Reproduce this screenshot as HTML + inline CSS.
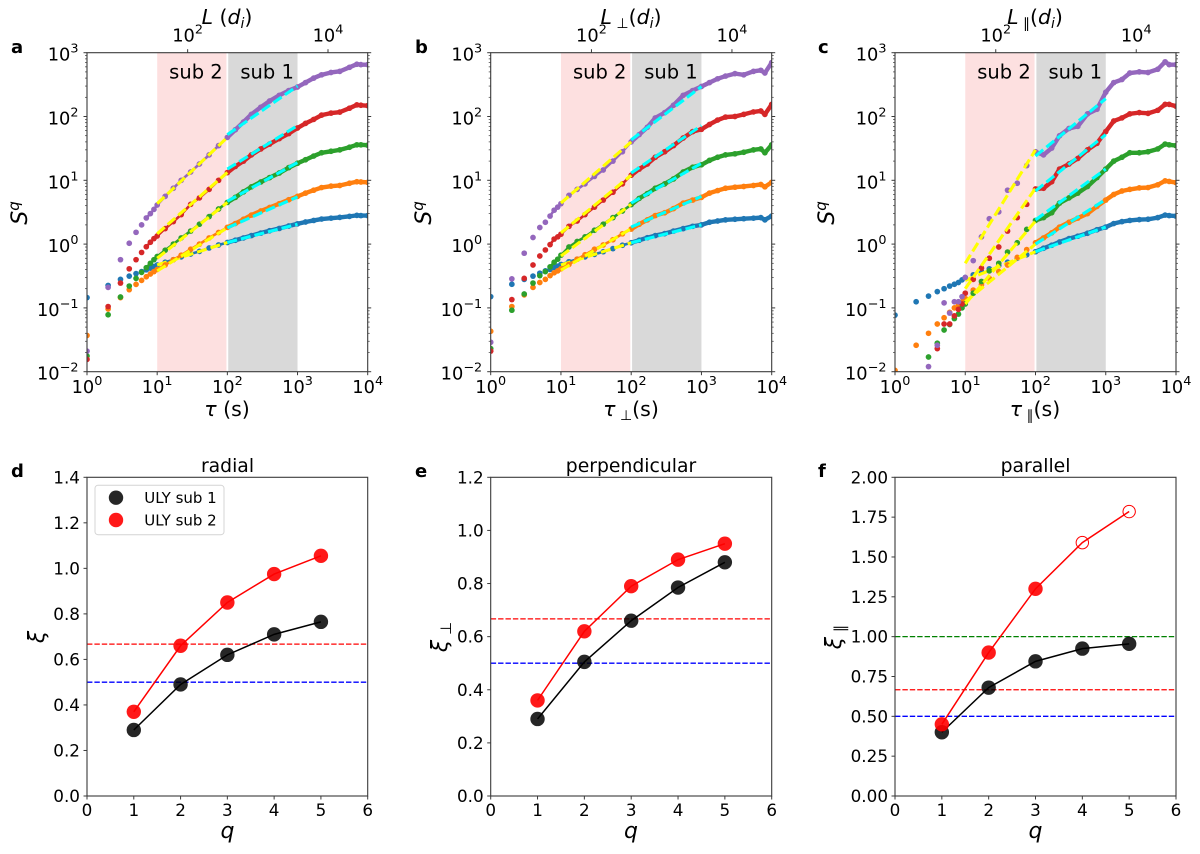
<!DOCTYPE html>
<html lang="en">
<head>
<meta charset="utf-8">
<title>Structure functions and scaling exponents</title>
<style>
html,body{margin:0;padding:0;background:#fff;}
svg{display:block;}
text{font-family:"DejaVu Sans","Liberation Sans",sans-serif;fill:#000;}
.tick{font-size:16.8px;}
.logtick{font-size:17.8px;}
.lab{font-size:20.5px;}
.ylab{font-size:22px;}
.it{font-style:italic;}
.letter{font-size:18px;font-weight:bold;}
.sub-label{font-size:19.5px;}
.title{font-size:18.8px;}
.leg{font-size:15px;}
</style>
</head>
<body>
<svg id="figure" xmlns="http://www.w3.org/2000/svg" width="1200" height="854" viewBox="0 0 1200 854">
  <defs>
    <clipPath id="clip-a"><rect x="87" y="52.7" width="280.7" height="319"/></clipPath>
    <clipPath id="clip-b"><rect x="490.7" y="52.7" width="281" height="319"/></clipPath>
    <clipPath id="clip-c"><rect x="895" y="52.7" width="281" height="319"/></clipPath>
  </defs>
  <g id="layer-a"></g>
  <g id="layer-b"></g>
  <g id="layer-c"></g>
  <g id="layer-d"></g>
  <g id="layer-e"></g>
  <g id="layer-f"></g>

  <text class="letter" x="11" y="53">a</text>
  <text class="letter" x="415" y="53">b</text>
  <text class="letter" x="818" y="53">c</text>
  <text class="letter" x="11" y="477">d</text>
  <text class="letter" x="415" y="477">e</text>
  <text class="letter" x="818" y="477">f</text>

  <text class="lab" x="227" y="24" text-anchor="middle"><tspan class="it">L</tspan> (<tspan class="it">d</tspan><tspan class="it" font-size="14" dy="4">i</tspan><tspan dy="-4">)</tspan></text>
  <text class="lab" x="631" y="24" text-anchor="middle"><tspan class="it">L</tspan><tspan font-size="14" dy="4"> ⊥</tspan><tspan dy="-4">(</tspan><tspan class="it">d</tspan><tspan class="it" font-size="14" dy="4">i</tspan><tspan dy="-4">)</tspan></text>
  <text class="lab" x="1035" y="24" text-anchor="middle"><tspan class="it">L</tspan><tspan font-size="14" dy="4"> ∥</tspan><tspan dy="-4">(</tspan><tspan class="it">d</tspan><tspan class="it" font-size="14" dy="4">i</tspan><tspan dy="-4">)</tspan></text>

  <text class="lab" x="227" y="416" text-anchor="middle"><tspan class="it">τ</tspan> (s)</text>
  <text class="lab" x="631" y="416" text-anchor="middle"><tspan class="it">τ</tspan><tspan font-size="14" dy="4"> ⊥</tspan><tspan dy="-4">(s)</tspan></text>
  <text class="lab" x="1035" y="416" text-anchor="middle"><tspan class="it">τ</tspan><tspan font-size="14" dy="4"> ∥</tspan><tspan dy="-4">(s)</tspan></text>

  <text class="ylab" transform="translate(27,213) rotate(-90)" text-anchor="middle"><tspan class="it">S</tspan><tspan class="it" font-size="15" dy="-8">q</tspan></text>
  <text class="ylab" transform="translate(431,213) rotate(-90)" text-anchor="middle"><tspan class="it">S</tspan><tspan class="it" font-size="15" dy="-8">q</tspan></text>
  <text class="ylab" transform="translate(834,213) rotate(-90)" text-anchor="middle"><tspan class="it">S</tspan><tspan class="it" font-size="15" dy="-8">q</tspan></text>

  <text class="title" x="227.5" y="472" text-anchor="middle">radial</text>
  <text class="title" x="631" y="472" text-anchor="middle">perpendicular</text>
  <text class="title" x="1035.5" y="472" text-anchor="middle">parallel</text>

  <text class="ylab" x="227.5" y="838" text-anchor="middle"><tspan class="it">q</tspan></text>
  <text class="ylab" x="631" y="838" text-anchor="middle"><tspan class="it">q</tspan></text>
  <text class="ylab" x="1035.5" y="838" text-anchor="middle"><tspan class="it">q</tspan></text>

  <text class="ylab" transform="translate(44,637) rotate(-90)" text-anchor="middle"><tspan class="it">ξ</tspan></text>
  <text class="ylab" transform="translate(447,637) rotate(-90)" text-anchor="middle"><tspan class="it">ξ</tspan><tspan font-size="15" dy="4"> ⊥</tspan></text>
  <text class="ylab" transform="translate(841,637) rotate(-90)" text-anchor="middle"><tspan class="it">ξ</tspan><tspan font-size="15" dy="4"> ∥</tspan></text>

  <g>
    <rect x="95" y="485.3" width="129" height="49.4" rx="3" fill="#fff" stroke="#d4d4d4" stroke-width="1"/>
    <circle cx="116" cy="497.7" r="7.2" fill="#000" fill-opacity="0.85"/>
    <text class="leg" x="144.3" y="503">ULY sub 1</text>
    <circle cx="116" cy="520" r="7.2" fill="#ff0000" fill-opacity="0.9"/>
    <text class="leg" x="144.3" y="525.5">ULY sub 2</text>
  </g>
</svg>
<script>
// ---- Shared abscissae and tick labels ----
const tauValues = [1,2,3,4,5,6,7,8,9,10,13,17,22,30,40,55,75,100,130,170,220,300,400,550,750,1000,1300,1700,2200,3000,4000,5500,7000,8000,10000];
const logXTicks = [1,10,100,1000,10000];
const logXExponents = ['0','1','2','3','4'];
const logYTicks = [0.01,0.1,1,10,100,1000];
const logYExponents = ['−2','−1','0','1','2','3'];
const topTicks = [100,10000];
const topExponents = ['2','4'];
const topAxisRange = [3.68,36800];
const subRange2 = [10,97];
const subRange1 = [103,1000];
const fitRange2 = [10,100];
const fitRange1 = [100,1000];
const seriesColors = ['#1f77b4','#ff7f0e','#2ca02c','#d62728','#9467bd'];

// ---- Panel a: radial structure functions, q = 1..5 ----
const aQ1 = [0.145,0.225,0.28,0.315,0.345,0.37,0.395,0.42,0.445,0.47,0.52,0.57,0.63,0.70,0.77,0.87,0.97,1.06,1.15,1.25,1.36,1.49,1.62,1.76,1.92,2.08,2.22,2.35,2.47,2.55,2.62,2.72,2.82,2.8,2.8];
const aQ2 = [0.037,0.096,0.145,0.193,0.234,0.27,0.308,0.34,0.37,0.40,0.47,0.57,0.67,0.83,1.0,1.25,1.52,1.83,2.1,2.45,2.85,3.3,3.75,4.3,4.95,5.6,6.3,7.0,7.7,8.1,8.3,9.0,9.5,9.4,9.3];
const aQ3 = [0.0176,0.078,0.148,0.22,0.29,0.36,0.427,0.5,0.57,0.64,0.80,1.0,1.25,1.6,2.05,2.7,3.55,4.5,5.4,6.6,7.9,9.4,11,13,15.8,18.5,21,24,27,28.5,30,33,36,36,35.5];
const aQ4 = [0.0156,0.105,0.245,0.41,0.57,0.74,0.91,1.07,1.22,1.34,1.75,2.25,2.9,4.2,5.3,7.2,10,13.2,16.5,20,25,31,37,45,54,66,78,90,105,113,117,135,152,150,148];
const aQ5 = [0.021,0.21,0.57,1.03,1.53,2.0,2.57,3.0,3.5,4.1,5.6,7.5,10,13.5,18,25,35,47,62,82,108,140,175,215,255,290,340,400,450,490,510,590,660,650,650];
const aFit2Start = [0.47,0.38,0.6,1.45,4.3];
const aFit2End = [1.06,1.8,4.5,13.3,47];
const aFit1Start = [1.06,1.8,4.7,15,52];
const aFit1End = [2.05,5.5,19,72,300];

// ---- Panel b: perpendicular structure functions ----
const bQ1 = [0.15,0.235,0.28,0.315,0.35,0.38,0.40,0.43,0.45,0.48,0.53,0.58,0.63,0.69,0.76,0.85,0.96,1.05,1.15,1.26,1.36,1.46,1.6,1.75,1.9,2.0,2.2,2.3,2.4,2.45,2.5,2.55,2.6,2.4,2.75];
const bQ2 = [0.043,0.105,0.16,0.21,0.25,0.28,0.32,0.355,0.38,0.41,0.48,0.58,0.68,0.83,0.97,1.17,1.45,1.72,2.05,2.4,2.8,3.1,3.6,4.4,4.9,5.4,6.3,6.9,7.5,7.8,8.0,8.3,8.6,7.9,9.3];
const bQ3 = [0.023,0.092,0.165,0.245,0.32,0.37,0.44,0.52,0.58,0.67,0.9,1.1,1.3,1.65,2.05,2.6,3.3,4.15,5.2,6.2,7.5,8.8,10.5,13.5,16,17.5,20.5,23,25,26,27.5,30,31,27,36];
const bQ4 = [0.021,0.135,0.29,0.47,0.65,0.81,0.98,1.2,1.3,1.43,1.9,2.3,2.9,3.8,4.9,6.5,8.8,12,15,18,23,28,35,46,58,63,75,88,98,100,108,118,122,108,155];
const bQ5 = [0.029,0.285,0.72,1.27,1.82,2.2,2.75,3.4,3.8,4.3,5.8,7.2,8.8,11.5,14.5,20,28,40,52,68,95,115,150,215,255,295,340,390,430,470,450,510,530,480,700];
const bFit2Start = [0.47,0.39,0.65,1.5,4.4];
const bFit2End = [1.05,1.75,4.2,12,40];
const bFit1Start = [1.05,1.85,4.4,13,43];
const bFit1End = [2.0,5.6,18.5,72,295];

// ---- Panel c: parallel structure functions ----
const cQ1 = [0.077,0.125,0.153,0.18,0.2,0.22,0.235,0.25,0.275,0.30,0.33,0.37,0.41,0.46,0.52,0.6,0.68,0.76,0.86,0.96,1.08,1.22,1.33,1.48,1.68,1.85,2.1,2.25,2.35,2.42,2.45,2.6,2.85,2.8,2.75];
const cQ2 = [0.0105,0.026,0.04,0.056,0.07,0.085,0.1,0.11,0.125,0.14,0.19,0.23,0.29,0.37,0.47,0.62,0.82,1.05,1.25,1.5,1.85,2.2,2.55,3.0,3.9,4.9,6,6.8,7.2,7.6,7.7,8.5,9.8,9.6,9.2];
const cQ3 = [null,null,0.017,0.028,0.045,0.055,0.068,0.08,0.1,0.115,0.17,0.26,0.38,0.5,0.75,1.05,1.7,2.35,2.6,3.1,4.4,5.3,6.3,8,11,15,20,23,27,27,28,31,37,36,35];
const cQ4 = [null,null,null,0.023,0.056,0.056,0.075,0.095,0.115,0.17,0.28,0.42,0.6,0.9,1.6,2.6,4.2,7.3,7.5,9.5,15,18,22,30,38,58,85,95,110,115,112,125,155,155,145];
const cQ5 = [null,null,0.012,0.026,0.12,0.083,0.125,0.125,0.15,0.3,0.55,1.3,2.5,3.2,7,9,17,28,25,32,50,65,70,110,130,240,340,380,480,500,490,550,720,650,650];
const cFit2Start = [0.27,0.125,0.115,0.2,0.5];
const cFit2End = [0.76,1.0,2.3,7.5,30];
const cFit1Start = [0.76,1.0,2.4,6.8,24];
const cFit1End = [1.85,5.0,15,52,190];

// ---- Panels d, e, f: scaling exponents ----
const qValues = [1,2,3,4,5];
const qTicks = [0,1,2,3,4,5,6];
const dSub1 = [0.29,0.49,0.62,0.71,0.765];
const dSub2 = [0.37,0.66,0.85,0.975,1.055];
const eSub1 = [0.29,0.505,0.66,0.785,0.88];
const eSub2 = [0.36,0.62,0.79,0.89,0.95];
const fSub1 = [0.40,0.68,0.845,0.925,0.955];
const fSub2 = [0.45,0.90,1.30,1.59,1.785];
const dTicks = ['0.0','0.2','0.4','0.6','0.8','1.0','1.2','1.4'];
const eTicks = ['0.0','0.2','0.4','0.6','0.8','1.0','1.2'];
const fTicks = ['0.00','0.25','0.50','0.75','1.00','1.25','1.50','1.75','2.00'];
const dRefLines = [0.667,0.5];
const eRefLines = [0.667,0.5];
const fRefLines = [1.0,0.667,0.5];
const dOpen = [false,false,false,false,false];
const eOpen = [false,false,false,false,false];
const fOpen = [false,false,false,true,true];

const NS = 'http://www.w3.org/2000/svg';
const refColors = {0.5:'#0000ff',0.667:'#ff0000',1:'#008000'};

function mk(tag, parent, attrs){
  const el = document.createElementNS(NS, tag);
  for (const k in attrs) el.setAttribute(k, attrs[k]);
  parent.appendChild(el);
  return el;
}

function logX(p, v){ return p.left + Math.log10(v) / 4 * (p.right - p.left); }
function logY(p, v){ return p.top + (3 - Math.log10(v)) / 5 * (p.bottom - p.top); }
function topX(p, v){
  const a = Math.log10(topAxisRange[0]), b = Math.log10(topAxisRange[1]);
  return p.left + (Math.log10(v) - a) / (b - a) * (p.right - p.left);
}

function powerLabel(parent, x, y, anchor, exponent, name){
  const t = mk('text', parent, {x:x, y:y, 'text-anchor':anchor, 'class':'logtick'});
  
  
  t.textContent = '10';
  const s = mk('tspan', t, {'font-size':'12.8', dy:'-8'});
  s.textContent = exponent;
  return t;
}

function drawLogPanel(p){
  const g = document.getElementById('layer-' + p.id);
  const clipped = mk('g', g, {'clip-path':'url(#clip-' + p.id + ')'});

  const band2 = mk('rect', clipped, {x:logX(p,subRange2[0]), y:p.top, width:logX(p,subRange2[1])-logX(p,subRange2[0]), height:p.bottom-p.top, fill:'#fde0e0'});
  
  
  const band1 = mk('rect', clipped, {x:logX(p,subRange1[0]), y:p.top, width:logX(p,subRange1[1])-logX(p,subRange1[0]), height:p.bottom-p.top, fill:'#d9d9d9'});
  
  

  const lab2 = mk('text', g, {x:logX(p,10)+12, y:p.top+26, 'class':'sub-label'});
  
  
  lab2.textContent = 'sub 2';
  const lab1 = mk('text', g, {x:logX(p,100)+13, y:p.top+26, 'class':'sub-label'});
  
  
  lab1.textContent = 'sub 1';

  p.series.forEach(function(vals, i){
    const color = seriesColors[i];
    const q = mk('g', clipped, {});
    
    
    let thin = '', wide = '';
    vals.forEach(function(v, k){
      if (v === null) return;
      const x = logX(p, tauValues[k]).toFixed(2), y = logY(p, v).toFixed(2);
      if (tauValues[k] >= p.thinFrom) thin += (thin ? 'L' : 'M') + x + ' ' + y;
      if (tauValues[k] >= 100) wide += (wide ? 'L' : 'M') + x + ' ' + y;
    });
    const l1 = mk('path', q, {d:thin, fill:'none', stroke:color, 'stroke-width':2.6});
    
    
    const l2 = mk('path', q, {d:wide, fill:'none', stroke:color, 'stroke-width':4.4, 'stroke-linejoin':'round'});
    
    
    vals.forEach(function(v, k){
      if (v === null) return;
      const c = mk('circle', q, {cx:logX(p, tauValues[k]), cy:logY(p, v), r:2.85, fill:color});
      
      
    });
    const fy = mk('line', q, {x1:logX(p,fitRange2[0]), y1:logY(p,p.fit2Start[i]), x2:logX(p,fitRange2[1]), y2:logY(p,p.fit2End[i]), stroke:'#ffff00', 'stroke-width':3.1, 'stroke-dasharray':'10 4'});
    
    
    const fc = mk('line', q, {x1:logX(p,fitRange1[0]), y1:logY(p,p.fit1Start[i]), x2:logX(p,fitRange1[1]), y2:logY(p,p.fit1End[i]), stroke:'#00ffff', 'stroke-width':3.1, 'stroke-dasharray':'10 4'});
    
    
  });

  const axisColor = '#3a3a3a';
  const frame = mk('rect', g, {x:p.left, y:p.top, width:p.right-p.left, height:p.bottom-p.top, fill:'none', stroke:axisColor, 'stroke-width':1.1});
  
  

  logXTicks.forEach(function(v, i){
    const x = logX(p, v);
    const t = mk('line', g, {x1:x, x2:x, y1:p.bottom, y2:p.bottom+3.5, stroke:axisColor, 'stroke-width':1});
    
    
    powerLabel(g, x, p.bottom+21.5, 'middle', logXExponents[i], 'x-tick-label');
  });
  topTicks.forEach(function(v, i){
    const x = topX(p, v);
    const t = mk('line', g, {x1:x, x2:x, y1:p.top, y2:p.top-3.5, stroke:axisColor, 'stroke-width':1});
    
    
    powerLabel(g, x, p.top-11, 'middle', topExponents[i], 'top-tick-label');
  });
  logYTicks.forEach(function(v, i){
    const y = logY(p, v);
    [p.left, p.right].forEach(function(edge, side){
      const t = mk('line', g, {x1:edge, x2:edge+(side?3.5:-3.5), y1:y, y2:y, stroke:axisColor, 'stroke-width':1});
      
      
      if (v < 1000) for (let m = 2; m < 10; m++){
        const my = logY(p, v * m);
        const mt = mk('line', g, {x1:edge, x2:edge+(side?2:-2), y1:my, y2:my, stroke:axisColor, 'stroke-width':0.7});
        
        
      }
    });
    powerLabel(g, p.left-8.5, y+8, 'end', logYExponents[i], 'y-tick-label');
  });
}

function drawExponentPanel(p){
  const g = document.getElementById('layer-' + p.id);
  const sx = function(v){ return p.left + v / 6 * (p.right - p.left); };
  const sy = function(v){ return p.bottom - v / p.yMax * (p.bottom - p.top); };
  const axisColor = '#3a3a3a';

  p.refLines.forEach(function(v){
    const r = mk('line', g, {x1:p.left, x2:p.right, y1:sy(v), y2:sy(v), stroke:refColors[v], 'stroke-width':1.3, 'stroke-dasharray':'5.4 2'});
    
    
  });

  [[p.sub1,'#000000',0.85,'sub-1'],[p.sub2,'#ff0000',0.9,'sub-2']].forEach(function(s){
    const d = s[0].map(function(v, k){ return (k ? 'L' : 'M') + sx(qValues[k]).toFixed(2) + ' ' + sy(v).toFixed(2); }).join('');
    const line = mk('path', g, {d:d, fill:'none', stroke:s[1], 'stroke-width':1.5});
    
    
    s[0].forEach(function(v, k){
      const hollow = s[3] === 'sub-2' && p.open[k];
      const c = hollow
        ? mk('circle', g, {cx:sx(qValues[k]), cy:sy(v), r:6.2, fill:'none', stroke:'#ff0000', 'stroke-width':1})
        : mk('circle', g, {cx:sx(qValues[k]), cy:sy(v), r:7.2, fill:s[1], 'fill-opacity':s[2]});
      
      
    });
  });

  const frame = mk('rect', g, {x:p.left, y:p.top, width:p.right-p.left, height:p.bottom-p.top, fill:'none', stroke:axisColor, 'stroke-width':1.1});
  
  

  qTicks.forEach(function(v){
    const t = mk('line', g, {x1:sx(v), x2:sx(v), y1:p.bottom, y2:p.bottom+3.5, stroke:axisColor, 'stroke-width':1});
    
    
    const l = mk('text', g, {x:sx(v), y:p.bottom+20, 'text-anchor':'middle', 'class':'tick'});
    
    
    l.textContent = String(v);
  });
  p.yTicks.forEach(function(label){
    const v = parseFloat(label);
    const t = mk('line', g, {x1:p.left, x2:p.left-3.5, y1:sy(v), y2:sy(v), stroke:axisColor, 'stroke-width':1});
    
    
    const l = mk('text', g, {x:p.left-7, y:sy(v)+6, 'text-anchor':'end', 'class':'tick'});
    
    
    l.textContent = label;
  });
}

drawLogPanel({id:'a', left:87, right:367.7, top:52.7, bottom:371.7, thinFrom:7, series:[aQ1,aQ2,aQ3,aQ4,aQ5], fit2Start:aFit2Start, fit2End:aFit2End, fit1Start:aFit1Start, fit1End:aFit1End});
drawLogPanel({id:'b', left:490.7, right:771.7, top:52.7, bottom:371.7, thinFrom:7, series:[bQ1,bQ2,bQ3,bQ4,bQ5], fit2Start:bFit2Start, fit2End:bFit2End, fit1Start:bFit1Start, fit1End:bFit1End});
drawLogPanel({id:'c', left:895, right:1176, top:52.7, bottom:371.7, thinFrom:100, series:[cQ1,cQ2,cQ3,cQ4,cQ5], fit2Start:cFit2Start, fit2End:cFit2End, fit1Start:cFit1Start, fit1End:cFit1End});
drawExponentPanel({id:'d', left:87, right:367.7, top:477.3, bottom:796, yMax:1.4, yTicks:dTicks, sub1:dSub1, sub2:dSub2, refLines:dRefLines, open:dOpen});
drawExponentPanel({id:'e', left:490.7, right:771.7, top:477.3, bottom:796, yMax:1.2, yTicks:eTicks, sub1:eSub1, sub2:eSub2, refLines:eRefLines, open:eOpen});
drawExponentPanel({id:'f', left:895, right:1176, top:477.3, bottom:796, yMax:2.0, yTicks:fTicks, sub1:fSub1, sub2:fSub2, refLines:fRefLines, open:fOpen});
</script>
</body>
</html>
